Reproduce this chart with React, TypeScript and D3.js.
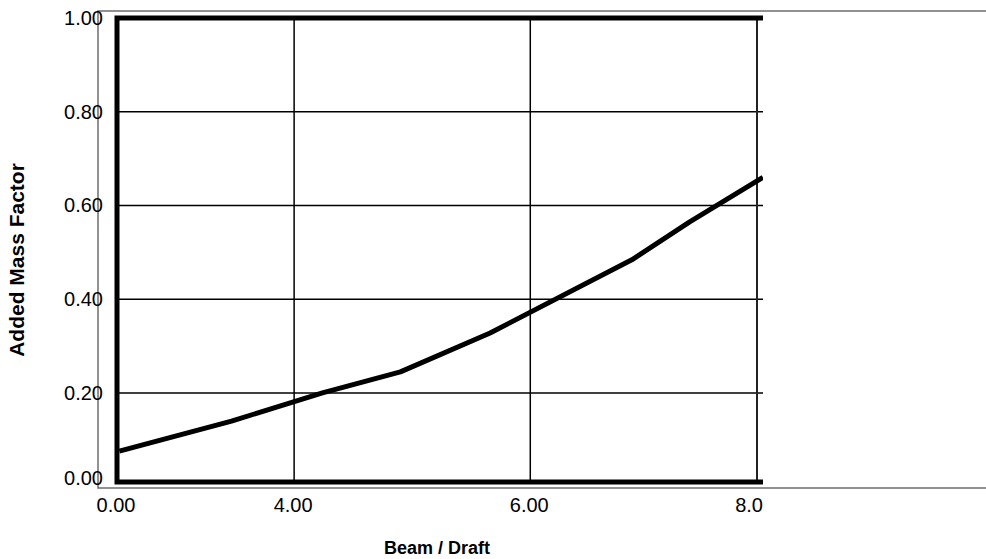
import * as d3 from 'd3';
import React, { useEffect, useRef } from 'react';

// curve points (beam/draft, added mass factor)
const beamDraft = [2.52, 3.47, 4.24, 4.9, 5.66, 6.86, 7.35, 7.97];
const massFactor = [0.076, 0.14, 0.2, 0.245, 0.328, 0.484, 0.565, 0.66];

const xTickValues = [2.5, 4, 6, 7.92];
const xTickLabels = ['0.00', '4.00', '6.00', '8.0'];
const yTickValues = [0.01, 0.2, 0.4, 0.6, 0.8, 1.0];
const yTickLabels = ['0.00', '0.20', '0.40', '0.60', '0.80', '1.00'];

function AddedMassChart() {
  const svgRef = useRef<SVGSVGElement>(null);

  useEffect(() => {
    const w = 986;
    const h = 559;
    const left = 117;
    const right = 757;
    const top = 18;
    const bottom = 482;
    const font = 'Liberation Sans, Arial, sans-serif';

    const svg = d3.select(svgRef.current).attr('width', w).attr('height', h);
    svg.selectAll('*').remove();

    const x = d3.scaleLinear().domain([2.5, 7.92]).range([left, right]);
    const y = d3.scaleLinear().domain([0.01, 1]).range([bottom, top]);

    // outer grey frame
    svg
      .append('path')
      .attr('d', `M${w},11 H98 V488 H${w}`)
      .attr('fill', 'none')
      .attr('stroke', '#6e6e6e')
      .attr('stroke-width', 1.5);

    svg
      .append('clipPath')
      .attr('id', 'plotclip')
      .append('rect')
      .attr('x', left - 3)
      .attr('y', top - 3)
      .attr('width', 763 - left + 3)
      .attr('height', bottom - top + 6);

    // horizontal grid
    svg
      .selectAll('.hgrid')
      .data(yTickValues.slice(1, -1))
      .join('line')
      .attr('x1', left)
      .attr('x2', 763)
      .attr('y1', (d) => y(d))
      .attr('y2', (d) => y(d))
      .attr('stroke', '#000')
      .attr('stroke-width', 1.5);

    // vertical grid
    svg
      .selectAll('.vgrid')
      .data(xTickValues.slice(1, -1))
      .join('line')
      .attr('x1', (d) => x(d))
      .attr('x2', (d) => x(d))
      .attr('y1', top)
      .attr('y2', bottom)
      .attr('stroke', '#000')
      .attr('stroke-width', 1.5);

    // right border (thin)
    svg
      .append('line')
      .attr('x1', x(7.92))
      .attr('x2', x(7.92))
      .attr('y1', top)
      .attr('y2', bottom)
      .attr('stroke', '#222')
      .attr('stroke-width', 2);

    // thick frame: left, top, bottom
    svg
      .append('path')
      .attr('d', `M763,${top} H${left} V${bottom} H763`)
      .attr('fill', 'none')
      .attr('stroke', '#000')
      .attr('stroke-width', 5);

    const pts = beamDraft.map((b, i) => [b, massFactor[i]] as [number, number]);
    const line = d3
      .line<[number, number]>()
      .x((d) => x(d[0]))
      .y((d) => y(d[1]));

    svg
      .append('path')
      .attr('d', line(pts))
      .attr('clip-path', 'url(#plotclip)')
      .attr('fill', 'none')
      .attr('stroke', '#000')
      .attr('stroke-width', 5)
      .attr('stroke-linejoin', 'round');

    // tick labels
    svg
      .selectAll('.ylab')
      .data(yTickValues)
      .join('text')
      .attr('x', 103)
      .attr('y', (d, i) => (i === 0 ? y(d) - 4 : y(d)))
      .attr('dy', '0.35em')
      .attr('text-anchor', 'end')
      .attr('font-family', font)
      .attr('font-size', 20)
      .text((d, i) => yTickLabels[i]);

    svg
      .selectAll('.xlab')
      .data(xTickValues)
      .join('text')
      .attr('x', (d, i) => (i === xTickValues.length - 1 ? x(d) + 6 : x(d) - 1))
      .attr('y', 505)
      .attr('dy', '0.35em')
      .attr('text-anchor', (d, i) => (i === xTickValues.length - 1 ? 'end' : 'middle'))
      .attr('font-family', font)
      .attr('font-size', 20)
      .text((d, i) => xTickLabels[i]);

    // axis titles
    svg
      .append('text')
      .attr('x', 437)
      .attr('y', 548)
      .attr('dy', '0.35em')
      .attr('text-anchor', 'middle')
      .attr('font-family', font)
      .attr('font-weight', 'bold')
      .attr('font-size', 18)
      .text('Beam / Draft');

    svg
      .append('text')
      .attr('transform', 'translate(17,260) rotate(-90)')
      .attr('dy', '0.35em')
      .attr('text-anchor', 'middle')
      .attr('font-family', font)
      .attr('font-weight', 'bold')
      .attr('font-size', 21)
      .text('Added Mass Factor');
  }, []);

  return (
    <div style={{ position: 'absolute', left: 0, top: 0 }}>
      <svg ref={svgRef} style={{ display: 'block', background: '#fff' }} />
    </div>
  );
}

export default function App() {
  return <AddedMassChart />;
}
